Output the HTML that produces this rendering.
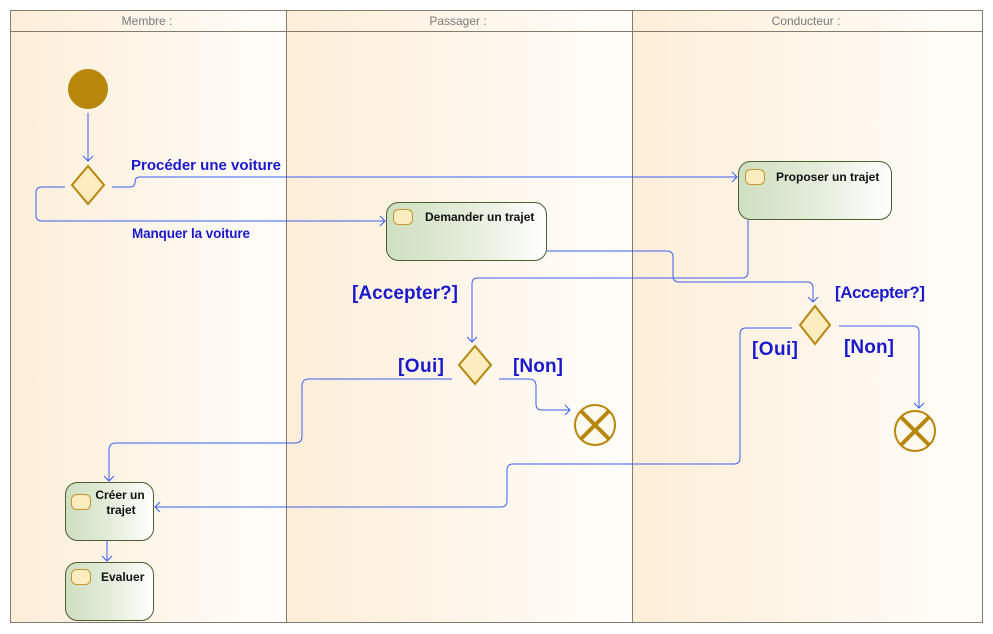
<!DOCTYPE html>
<html><head><meta charset="utf-8"><style>
html,body{margin:0;padding:0;background:#fff}
svg{display:block;font-family:"Liberation Sans",Arial,sans-serif}
</style></head><body>
<svg width="993" height="634" viewBox="0 0 993 634" xmlns="http://www.w3.org/2000/svg">
<defs>
<linearGradient id="lane" x1="0" x2="1" y1="0" y2="0"><stop offset="0" stop-color="#fdeed8"/><stop offset="1" stop-color="#fffdfa"/></linearGradient>
<linearGradient id="act" x1="0" x2="1" y1="0" y2="0"><stop offset="0" stop-color="#cfdfc2"/><stop offset="0.5" stop-color="#e3ecd9"/><stop offset="1" stop-color="#ffffff"/></linearGradient>
</defs>
<rect x="10" y="10" width="276" height="613" fill="url(#lane)"/>
<rect x="286" y="10" width="346" height="613" fill="url(#lane)"/>
<rect x="632" y="10" width="351" height="613" fill="url(#lane)"/>
<g stroke="#857a6e" fill="none" stroke-width="1">
<rect x="10.5" y="10.5" width="972" height="612"/>
<line x1="10" y1="31.5" x2="983" y2="31.5"/>
<line x1="286.5" y1="10" x2="286.5" y2="623"/>
<line x1="632.5" y1="10" x2="632.5" y2="623"/>
</g>
<g font-size="12" fill="#7a7a7a" text-anchor="middle">
<text x="147" y="25">Membre :</text>
<text x="458" y="25">Passager :</text>
<text x="806" y="25">Conducteur :</text>
</g>
<g stroke="#3a5ff0" fill="none" stroke-width="1">
<path d="M88 113V161"/>
<path d="M112 187H130Q135 187 135 182Q135 177 140 177H737"/>
<path d="M65 187H42Q36 187 36 193V215Q36 221 42 221H385"/>
<path d="M547 251H667Q673 251 673 257V276Q673 282 679 282H807Q813 282 813 288V302"/>
<path d="M748 220V272Q748 278 742 278H478Q472 278 472 284V342"/>
<path d="M452 379H309Q302 379 302 386V436Q302 443 295 443H116Q109 443 109 450V481"/>
<path d="M499 379H529Q536 379 536 386V404Q536 410 542 410H570"/>
<path d="M107 540V561"/>
<path d="M792 328H746Q740 328 740 334V458Q740 464 734 464H513Q507 464 507 470V501Q507 507 501 507H155"/>
<path d="M839 326H913Q919 326 919 332V408"/>
</g>
<g stroke="#3a5ff0" fill="none" stroke-width="1">
<path d="M83 156L88 161L93 156"/>
<path d="M732 172L737 177L732 182"/>
<path d="M380 216L385 221L380 226"/>
<path d="M808 297L813 302L818 297"/>
<path d="M467 337L472 342L477 337"/>
<path d="M104 476L109 481L114 476"/>
<path d="M565 405L570 410L565 415"/>
<path d="M102 556L107 561L112 556"/>
<path d="M160 502L155 507L160 512"/>
<path d="M914 403L919 408L924 403"/>
</g>
<circle cx="88" cy="89" r="20" fill="#b8860b"/>
<g fill="#fdecc0" stroke="#b8860b" stroke-width="2">
<path d="M88 166L104 185L88 204L72 185Z"/>
<path d="M475 346L491 365L475 384L459 365Z"/>
<path d="M815 306L830 325L815 344L800 325Z"/>
</g>
<g fill="#fffaf0" stroke="#b8860b" stroke-width="2">
<circle cx="595" cy="425" r="20"/>
<circle cx="915" cy="431" r="20"/>
</g>
<g stroke="#b8860b" stroke-width="4">
<path d="M581 411L609 439M609 411L581 439"/>
<path d="M901 417L929 445M929 417L901 445"/>
</g>
<g fill="url(#act)" stroke="#4a5e2e" stroke-width="1">
<rect x="386.5" y="202.5" width="160" height="58" rx="12"/>
<rect x="738.5" y="161.5" width="153" height="58" rx="12"/>
<rect x="65.5" y="482.5" width="88" height="58" rx="12"/>
<rect x="65.5" y="562.5" width="88" height="58" rx="12"/>
</g>
<g fill="#fdecc0" stroke="#c8962c" stroke-width="1">
<rect x="393.5" y="209.5" width="19" height="15" rx="5"/>
<rect x="745.5" y="169.5" width="19" height="15" rx="5"/>
<rect x="71.5" y="494.5" width="19" height="15" rx="5"/>
<rect x="71.5" y="569.5" width="19" height="15" rx="5"/>
</g>
<g font-size="12" font-weight="bold" fill="#111">
<text x="425" y="221">Demander un trajet</text>
<text x="776" y="181">Proposer un trajet</text>
<text x="120" y="499" text-anchor="middle">Créer un</text>
<text x="121" y="514" text-anchor="middle">trajet</text>
<text x="101" y="581">Evaluer</text>
</g>
<g font-weight="bold" fill="#1a1acc">
<text x="131" y="170" font-size="15" textLength="150">Procéder une voiture</text>
<text x="132" y="238" font-size="13.5" textLength="118">Manquer la voiture</text>
<text x="352" y="299" font-size="19" textLength="106">[Accepter?]</text>
<text x="398" y="372" font-size="19" textLength="46">[Oui]</text>
<text x="513" y="372" font-size="19" textLength="50">[Non]</text>
<text x="835" y="298" font-size="17" textLength="90">[Accepter?]</text>
<text x="752" y="355" font-size="19" textLength="46">[Oui]</text>
<text x="844" y="353" font-size="19" textLength="50">[Non]</text>
</g>
</svg>
</body></html>
